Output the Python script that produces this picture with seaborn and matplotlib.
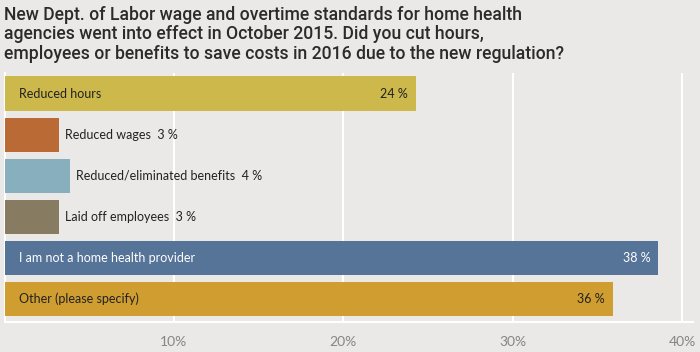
import matplotlib
matplotlib.use("Agg")
import matplotlib.pyplot as plt
import seaborn as sns
import pandas as pd

categories = ["Reduced hours", "Reduced wages", "Reduced/eliminated benefits",
              "Laid off employees", "I am not a home health provider",
              "Other (please specify)"]
values = [24.3, 3.2, 3.85, 3.2, 38.6, 35.9]
value_labels = ["24 %", "3 %", "4 %", "3 %", "38 %", "36 %"]
colors = ["#CDB94B", "#B96A35", "#87AFBE", "#877B61", "#567398", "#D09E30"]
text_colors = ["#222222", "#222222", "#222222", "#222222", "#FFFFFF", "#222222"]
inside = [True, False, False, False, True, True]
ticks = [10, 20, 30, 40]
tick_labels = ["10%", "20%", "30%", "40%"]
title = ("New Dept. of Labor wage and overtime standards for home health\n"
         "agencies went into effect in October 2015. Did you cut hours,\n"
         "employees or benefits to save costs in 2016 due to the new regulation?")

bg = "#EBE9E7"
sns.set_theme(style="white")
plt.rcParams["font.family"] = ["Lato", "DejaVu Sans"]

df = pd.DataFrame({"category": categories, "value": values})

fig = plt.figure(figsize=(7.0, 3.52), dpi=100, facecolor=bg)
ax = fig.add_axes([4.5 / 700, 1 - 322 / 352, (693 - 4.5) / 700, (322 - 73) / 352])
ax.set_facecolor(bg)

sns.barplot(data=df, y="category", x="value", hue="category", palette=colors,
            saturation=1, dodge=False, legend=False, width=0.83, linewidth=0,
            ax=ax, zorder=3)

ax.set_xlim(0, (693 - 4.5) / ((682 - 4.5) / 40))
ax.set_ylim(5.56, -0.5)
ax.set_xticks(ticks)
ax.set_xticklabels(tick_labels, color="#858585", fontsize=10)
ax.set_yticks([])
ax.set_xlabel("")
ax.set_ylabel("")
ax.tick_params(axis="x", length=0, pad=10)
ax.grid(axis="x", color="white", linewidth=1.5, zorder=0)
for s in ["top", "right"]:
    ax.spines[s].set_visible(False)
for s in ["left", "bottom"]:
    ax.spines[s].set_color("white")
    ax.spines[s].set_linewidth(1.5)

px = (682 - 4.5) / 40  # pixels per percent
for i, (cat, v, lab, tc, ins) in enumerate(zip(categories, values, value_labels, text_colors, inside)):
    if ins:
        ax.text(14.5 / px, i, cat, va="center", ha="left", fontsize=9, color=tc, zorder=5)
        ax.text(v - 8 / px, i, lab, va="center", ha="right", fontsize=9, color=tc, zorder=5)
    else:
        ax.text(v + 6 / px, i, cat + "  " + lab, va="center", ha="left", fontsize=9,
                color=tc, zorder=5)

fig.text(4 / 700, 1 - 6 / 352, title, ha="left", va="top", fontsize=12.7,
         color="#2B2B2B", linespacing=1.1, fontweight="medium",
         family=["Roboto", "DejaVu Sans"])

fig.savefig("out.png", dpi=100, facecolor=bg)
